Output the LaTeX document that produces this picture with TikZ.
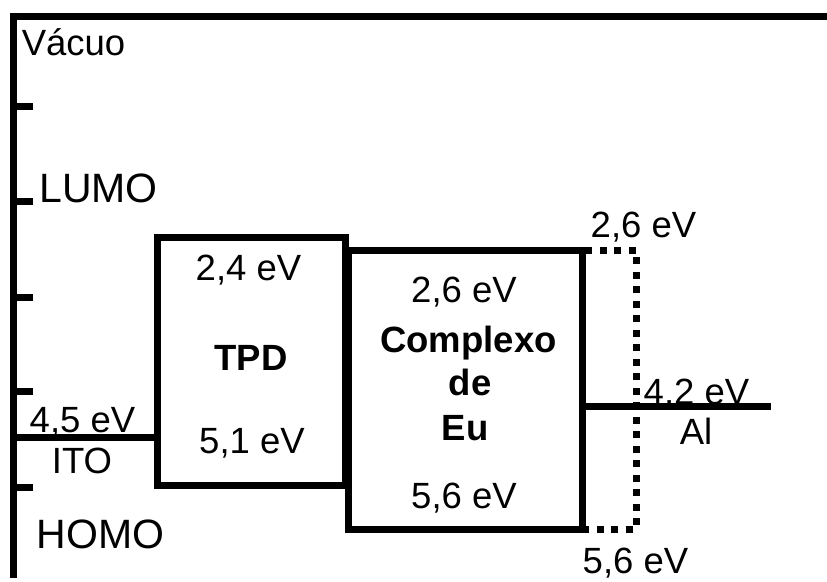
\documentclass[tikz,border=0pt]{standalone}
\usepackage{fontspec}
\setmainfont{Liberation Sans}
\begin{document}
\begin{tikzpicture}[x=1pt,y=-1pt,line width=7pt,
  lbl/.style={font=\fontsize{36.5}{40}\selectfont,inner sep=0pt,anchor=base},
  biglbl/.style={font=\fontsize{41}{45}\selectfont,inner sep=0pt,anchor=base},
  blbl/.style={font=\fontsize{36.5}{40}\selectfont\bfseries,inner sep=0pt,anchor=base},
  levelbox/.style={draw,line width=7pt,inner sep=0pt},
  dotbox/.style={draw,line width=7pt,inner sep=0pt,dash pattern=on 7pt off 7.5pt}]
\useasboundingbox (0,0) rectangle (827,581);
% axis
\coordinate (axbot) at (13,578);
\coordinate (axcorner) at (13,16);
\coordinate (axright) at (830,16);
\draw[line join=miter] (axbot) -- (axcorner) -- (axright);
\foreach \y/\n in {106/t1,201/t2,297/t3,391/t4,487/t5}{
  \coordinate (\n) at (13,\y);
  \draw (\n) -- ++(20,0);
}
% boxes
\node[dotbox,minimum width=54pt,minimum height=279pt] (dot) at (609,389.5) {};
\node[levelbox,minimum width=188pt,minimum height=248pt] (tpd) at (251,361) {};
\node[levelbox,minimum width=234pt,minimum height=279pt] (eu) at (465,389.5) {};
% ITO and Al levels
\coordinate (ito) at (13,437);
\draw (ito) -- (ito -| tpd.west);
\coordinate (al) at (771,406);
\draw (al -| eu.east) -- (al);
% labels
\node[lbl] (vac) at (73.5,55) {Vácuo};
\node[biglbl] (lumo) at (98.5,202) {LUMO};
\node[biglbl] (homo) at (100.5,548) {HOMO};
\node[lbl] (ito45) at (82.5,432) {4,5 eV};
\node[lbl] (itol) at (82,473) {ITO};
\node[lbl] (tpd24) at (248.5,280) {2,4 eV};
\node[blbl] (tpdl) at (251,370) {TPD};
\node[lbl] (tpd51) at (252,453) {5,1 eV};
\node[lbl] (eu26) at (464,302) {2,6 eV};
\node[blbl] (eul1) at (468.5,352) {Complexo};
\node[blbl] (eul2) at (470,395) {de};
\node[blbl] (eul3) at (465,440) {Eu};
\node[lbl] (eu56) at (464,508) {5,6 eV};
\node[lbl] (dot26) at (643.5,237) {2,6 eV};
\node[lbl] (al42) at (696.5,404) {4,2 eV};
\node[lbl] (all) at (696,444) {Al};
\node[lbl] (dot56) at (635.5,573) {5,6 eV};
\end{tikzpicture}
\end{document}
